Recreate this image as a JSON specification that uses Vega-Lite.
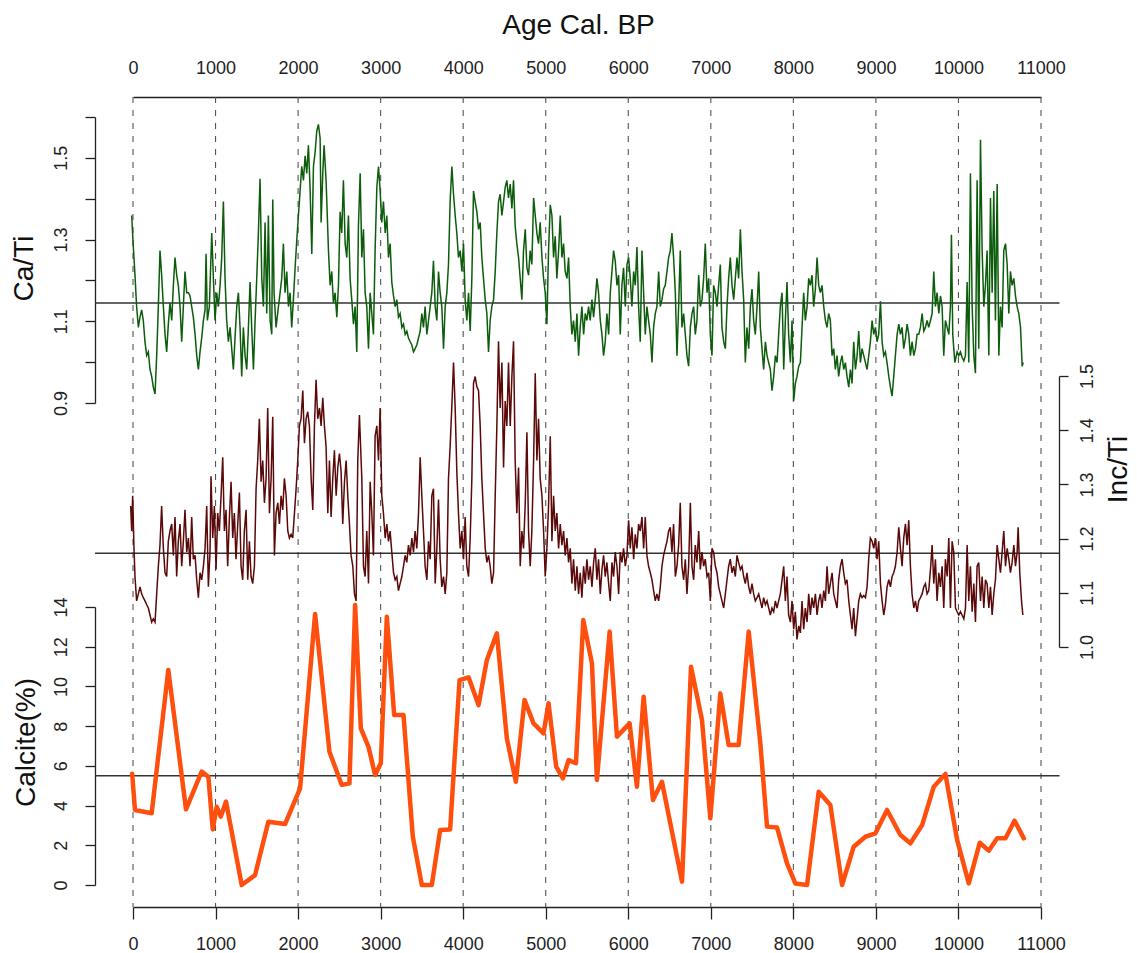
{
  "$schema": "https://vega.github.io/schema/vega-lite/v6.json",
  "width": 908,
  "height": 810,
  "autosize": "none",
  "padding": {"left": 133, "top": 97, "right": 96, "bottom": 46},
  "background": "white",
  "config": {
    "view": {"stroke": null},
    "font": "Liberation Sans",
    "axis": {
      "grid": false,
      "labelFont": "Liberation Sans",
      "labelFontSize": 18,
      "labelColor": "#222222",
      "titleFont": "Liberation Sans",
      "titleFontSize": 28,
      "titleFontWeight": "normal",
      "titleColor": "#111111",
      "domainColor": "#222222",
      "domainWidth": 1.3,
      "tickColor": "#222222",
      "tickWidth": 1.3,
      "labelOverlap": false,
      "labelFlush": false
    }
  },
  "datasets": {
    "cati": [
      {"age":-16,"ratio":1.359},{"age":4,"ratio":1.282},{"age":24,"ratio":1.213},{"age":44,"ratio":1.136},{"age":65,"ratio":1.085},{"age":85,"ratio":1.110},{"age":105,"ratio":1.128},{"age":125,"ratio":1.102},{"age":145,"ratio":1.050},{"age":166,"ratio":1.016},{"age":186,"ratio":1.025},{"age":206,"ratio":0.982},{"age":226,"ratio":0.965},{"age":246,"ratio":0.939},{"age":267,"ratio":0.922},{"age":287,"ratio":1.016},{"age":307,"ratio":1.136},{"age":327,"ratio":1.273},{"age":347,"ratio":1.213},{"age":368,"ratio":1.136},{"age":388,"ratio":1.068},{"age":408,"ratio":1.025},{"age":428,"ratio":1.093},{"age":448,"ratio":1.145},{"age":469,"ratio":1.102},{"age":489,"ratio":1.188},{"age":509,"ratio":1.256},{"age":529,"ratio":1.213},{"age":549,"ratio":1.188},{"age":570,"ratio":1.136},{"age":590,"ratio":1.050},{"age":610,"ratio":1.136},{"age":630,"ratio":1.222},{"age":651,"ratio":1.170},{"age":671,"ratio":1.170},{"age":691,"ratio":1.162},{"age":711,"ratio":1.136},{"age":731,"ratio":1.110},{"age":752,"ratio":1.068},{"age":772,"ratio":1.016},{"age":792,"ratio":0.982},{"age":812,"ratio":1.025},{"age":832,"ratio":1.059},{"age":853,"ratio":1.102},{"age":873,"ratio":1.128},{"age":885,"ratio":1.265},{"age":901,"ratio":1.102},{"age":925,"ratio":1.136},{"age":954,"ratio":1.316},{"age":974,"ratio":1.205},{"age":994,"ratio":1.102},{"age":1014,"ratio":1.170},{"age":1034,"ratio":1.136},{"age":1055,"ratio":1.188},{"age":1075,"ratio":1.256},{"age":1095,"ratio":1.393},{"age":1115,"ratio":1.205},{"age":1135,"ratio":1.102},{"age":1156,"ratio":1.050},{"age":1176,"ratio":1.085},{"age":1196,"ratio":1.033},{"age":1216,"ratio":0.982},{"age":1236,"ratio":1.059},{"age":1257,"ratio":1.136},{"age":1277,"ratio":1.170},{"age":1297,"ratio":1.085},{"age":1317,"ratio":0.965},{"age":1337,"ratio":1.085},{"age":1358,"ratio":1.016},{"age":1378,"ratio":0.982},{"age":1398,"ratio":1.085},{"age":1418,"ratio":1.196},{"age":1438,"ratio":1.085},{"age":1459,"ratio":0.982},{"age":1479,"ratio":1.102},{"age":1499,"ratio":1.205},{"age":1519,"ratio":1.316},{"age":1539,"ratio":1.449},{"age":1560,"ratio":1.205},{"age":1580,"ratio":1.136},{"age":1600,"ratio":1.342},{"age":1620,"ratio":1.119},{"age":1640,"ratio":1.359},{"age":1661,"ratio":1.102},{"age":1681,"ratio":1.068},{"age":1693,"ratio":1.398},{"age":1709,"ratio":1.170},{"age":1733,"ratio":1.085},{"age":1762,"ratio":1.136},{"age":1782,"ratio":1.170},{"age":1802,"ratio":1.205},{"age":1822,"ratio":1.290},{"age":1842,"ratio":1.170},{"age":1863,"ratio":1.222},{"age":1883,"ratio":1.136},{"age":1903,"ratio":1.170},{"age":1923,"ratio":1.085},{"age":1943,"ratio":1.153},{"age":1964,"ratio":1.231},{"age":1984,"ratio":1.299},{"age":2004,"ratio":1.359},{"age":2024,"ratio":1.419},{"age":2044,"ratio":1.479},{"age":2065,"ratio":1.445},{"age":2085,"ratio":1.505},{"age":2105,"ratio":1.462},{"age":2125,"ratio":1.531},{"age":2145,"ratio":1.428},{"age":2166,"ratio":1.265},{"age":2186,"ratio":1.479},{"age":2206,"ratio":1.513},{"age":2226,"ratio":1.565},{"age":2246,"ratio":1.582},{"age":2267,"ratio":1.548},{"age":2279,"ratio":1.342},{"age":2299,"ratio":1.462},{"age":2315,"ratio":1.531},{"age":2339,"ratio":1.445},{"age":2368,"ratio":1.273},{"age":2388,"ratio":1.188},{"age":2408,"ratio":1.222},{"age":2428,"ratio":1.145},{"age":2448,"ratio":1.170},{"age":2469,"ratio":1.110},{"age":2489,"ratio":1.188},{"age":2509,"ratio":1.368},{"age":2529,"ratio":1.316},{"age":2549,"ratio":1.445},{"age":2570,"ratio":1.290},{"age":2590,"ratio":1.256},{"age":2610,"ratio":1.359},{"age":2630,"ratio":1.205},{"age":2650,"ratio":1.153},{"age":2671,"ratio":1.093},{"age":2691,"ratio":1.136},{"age":2711,"ratio":1.025},{"age":2731,"ratio":1.333},
      {"age":2752,"ratio":1.462},{"age":2772,"ratio":1.256},{"age":2792,"ratio":1.325},{"age":2812,"ratio":1.170},{"age":2832,"ratio":1.136},{"age":2853,"ratio":1.033},{"age":2873,"ratio":1.170},{"age":2893,"ratio":1.119},{"age":2913,"ratio":1.068},{"age":2933,"ratio":1.273},{"age":2954,"ratio":1.428},{"age":2974,"ratio":1.479},{"age":2994,"ratio":1.419},{"age":3014,"ratio":1.342},{"age":3034,"ratio":1.393},{"age":3055,"ratio":1.316},{"age":3075,"ratio":1.359},{"age":3095,"ratio":1.256},{"age":3115,"ratio":1.290},{"age":3135,"ratio":1.196},{"age":3156,"ratio":1.162},{"age":3176,"ratio":1.136},{"age":3196,"ratio":1.153},{"age":3216,"ratio":1.110},{"age":3236,"ratio":1.119},{"age":3257,"ratio":1.085},{"age":3277,"ratio":1.093},{"age":3297,"ratio":1.068},{"age":3317,"ratio":1.076},{"age":3337,"ratio":1.059},{"age":3358,"ratio":1.050},{"age":3378,"ratio":1.042},{"age":3398,"ratio":1.025},{"age":3418,"ratio":1.033},{"age":3438,"ratio":1.042},{"age":3459,"ratio":1.059},{"age":3479,"ratio":1.076},{"age":3499,"ratio":1.119},{"age":3519,"ratio":1.085},{"age":3539,"ratio":1.136},{"age":3560,"ratio":1.068},{"age":3580,"ratio":1.102},{"age":3600,"ratio":1.136},{"age":3620,"ratio":1.170},{"age":3640,"ratio":1.248},{"age":3661,"ratio":1.136},{"age":3681,"ratio":1.102},{"age":3701,"ratio":1.222},{"age":3721,"ratio":1.170},{"age":3741,"ratio":1.136},{"age":3762,"ratio":1.033},{"age":3782,"ratio":1.136},{"age":3802,"ratio":1.170},{"age":3822,"ratio":1.239},{"age":3842,"ratio":1.393},{"age":3863,"ratio":1.479},{"age":3883,"ratio":1.411},{"age":3903,"ratio":1.359},{"age":3923,"ratio":1.316},{"age":3943,"ratio":1.256},{"age":3964,"ratio":1.273},{"age":3984,"ratio":1.222},{"age":4004,"ratio":1.290},{"age":4024,"ratio":1.153},{"age":4044,"ratio":1.102},{"age":4065,"ratio":1.170},{"age":4085,"ratio":1.076},{"age":4105,"ratio":1.205},{"age":4125,"ratio":1.419},{"age":4145,"ratio":1.393},{"age":4166,"ratio":1.368},{"age":4186,"ratio":1.325},{"age":4206,"ratio":1.342},{"age":4226,"ratio":1.256},{"age":4246,"ratio":1.205},{"age":4267,"ratio":1.153},{"age":4287,"ratio":1.119},{"age":4307,"ratio":1.025},{"age":4327,"ratio":1.102},{"age":4347,"ratio":1.136},{"age":4368,"ratio":1.153},{"age":4388,"ratio":1.222},{"age":4408,"ratio":1.316},{"age":4428,"ratio":1.393},{"age":4448,"ratio":1.411},{"age":4469,"ratio":1.359},{"age":4489,"ratio":1.393},{"age":4509,"ratio":1.428},{"age":4529,"ratio":1.445},{"age":4549,"ratio":1.402},{"age":4570,"ratio":1.436},{"age":4590,"ratio":1.376},{"age":4610,"ratio":1.445},{"age":4630,"ratio":1.333},{"age":4650,"ratio":1.290},{"age":4671,"ratio":1.256},{"age":4691,"ratio":1.205},{"age":4711,"ratio":1.153},{"age":4731,"ratio":1.273},{"age":4752,"ratio":1.325},{"age":4772,"ratio":1.231},{"age":4792,"ratio":1.213},{"age":4812,"ratio":1.273},{"age":4832,"ratio":1.239},{"age":4853,"ratio":1.402},{"age":4873,"ratio":1.359},{"age":4893,"ratio":1.316},{"age":4913,"ratio":1.290},{"age":4933,"ratio":1.342},{"age":4954,"ratio":1.256},{"age":4974,"ratio":1.205},{"age":4994,"ratio":1.170},{"age":5014,"ratio":1.093},{"age":5034,"ratio":1.273},{"age":5055,"ratio":1.385},{"age":5075,"ratio":1.359},{"age":5095,"ratio":1.256},{"age":5115,"ratio":1.308},{"age":5135,"ratio":1.205},{"age":5156,"ratio":1.273},{"age":5176,"ratio":1.359},{"age":5196,"ratio":1.256},{"age":5216,"ratio":1.290},{"age":5236,"ratio":1.222},{"age":5257,"ratio":1.205},{"age":5277,"ratio":1.256},{"age":5297,"ratio":1.136},{"age":5317,"ratio":1.068},{"age":5337,"ratio":1.102},{"age":5358,"ratio":1.050},{"age":5378,"ratio":1.119},{"age":5398,"ratio":1.016},{"age":5418,"ratio":1.085},{"age":5438,"ratio":1.136},{"age":5459,"ratio":1.068},{"age":5479,"ratio":1.119},{"age":5499,"ratio":1.102},{"age":5519,"ratio":1.136},{"age":5539,"ratio":1.102},{"age":5560,"ratio":1.153},{"age":5580,"ratio":1.110},
      {"age":5600,"ratio":1.153},{"age":5620,"ratio":1.205},{"age":5640,"ratio":1.170},{"age":5661,"ratio":1.102},{"age":5681,"ratio":1.068},{"age":5701,"ratio":1.016},{"age":5721,"ratio":1.050},{"age":5741,"ratio":1.119},{"age":5762,"ratio":1.068},{"age":5782,"ratio":1.170},{"age":5802,"ratio":1.222},{"age":5822,"ratio":1.273},{"age":5842,"ratio":1.248},{"age":5863,"ratio":1.188},{"age":5883,"ratio":1.213},{"age":5903,"ratio":1.068},{"age":5923,"ratio":1.188},{"age":5943,"ratio":1.231},{"age":5964,"ratio":1.136},{"age":5984,"ratio":1.239},{"age":6004,"ratio":1.256},{"age":6024,"ratio":1.205},{"age":6044,"ratio":1.136},{"age":6065,"ratio":1.222},{"age":6085,"ratio":1.188},{"age":6105,"ratio":1.282},{"age":6125,"ratio":1.136},{"age":6145,"ratio":1.050},{"age":6166,"ratio":1.273},{"age":6186,"ratio":1.170},{"age":6206,"ratio":1.068},{"age":6226,"ratio":1.136},{"age":6246,"ratio":1.102},{"age":6267,"ratio":1.068},{"age":6287,"ratio":0.999},{"age":6307,"ratio":1.085},{"age":6327,"ratio":1.119},{"age":6347,"ratio":1.136},{"age":6368,"ratio":1.222},{"age":6388,"ratio":1.136},{"age":6408,"ratio":1.153},{"age":6428,"ratio":1.179},{"age":6448,"ratio":1.188},{"age":6469,"ratio":1.222},{"age":6489,"ratio":1.256},{"age":6509,"ratio":1.273},{"age":6529,"ratio":1.316},{"age":6549,"ratio":1.256},{"age":6570,"ratio":1.170},{"age":6590,"ratio":1.016},{"age":6610,"ratio":1.136},{"age":6630,"ratio":1.273},{"age":6650,"ratio":1.085},{"age":6671,"ratio":1.119},{"age":6691,"ratio":1.068},{"age":6711,"ratio":1.016},{"age":6731,"ratio":0.990},{"age":6752,"ratio":1.085},{"age":6772,"ratio":1.119},{"age":6792,"ratio":1.136},{"age":6812,"ratio":1.068},{"age":6832,"ratio":1.102},{"age":6853,"ratio":1.213},{"age":6873,"ratio":1.136},{"age":6893,"ratio":1.153},{"age":6913,"ratio":1.205},{"age":6933,"ratio":1.290},{"age":6954,"ratio":1.170},{"age":6974,"ratio":1.205},{"age":6994,"ratio":1.068},{"age":7014,"ratio":1.016},{"age":7034,"ratio":1.188},{"age":7055,"ratio":1.170},{"age":7075,"ratio":1.136},{"age":7095,"ratio":1.188},{"age":7115,"ratio":1.239},{"age":7135,"ratio":1.085},{"age":7156,"ratio":1.050},{"age":7176,"ratio":1.033},{"age":7196,"ratio":1.136},{"age":7216,"ratio":1.205},{"age":7236,"ratio":1.256},{"age":7257,"ratio":1.188},{"age":7277,"ratio":1.153},{"age":7297,"ratio":1.205},{"age":7317,"ratio":1.256},{"age":7337,"ratio":1.205},{"age":7358,"ratio":1.325},{"age":7378,"ratio":1.222},{"age":7398,"ratio":1.153},{"age":7418,"ratio":0.999},{"age":7438,"ratio":1.085},{"age":7459,"ratio":1.033},{"age":7479,"ratio":1.136},{"age":7499,"ratio":1.179},{"age":7519,"ratio":1.102},{"age":7539,"ratio":1.068},{"age":7560,"ratio":1.136},{"age":7580,"ratio":1.222},{"age":7600,"ratio":1.085},{"age":7620,"ratio":1.033},{"age":7640,"ratio":0.982},{"age":7661,"ratio":1.050},{"age":7681,"ratio":1.016},{"age":7701,"ratio":0.999},{"age":7721,"ratio":0.982},{"age":7741,"ratio":0.930},{"age":7762,"ratio":0.965},{"age":7782,"ratio":1.016},{"age":7802,"ratio":0.999},{"age":7822,"ratio":1.068},{"age":7842,"ratio":1.136},{"age":7863,"ratio":1.170},{"age":7883,"ratio":0.982},{"age":7903,"ratio":1.102},{"age":7923,"ratio":1.196},{"age":7943,"ratio":1.068},{"age":7964,"ratio":0.999},{"age":7984,"ratio":1.102},{"age":8004,"ratio":0.905},{"age":8024,"ratio":0.948},{"age":8044,"ratio":0.965},{"age":8065,"ratio":0.990},{"age":8085,"ratio":0.999},{"age":8105,"ratio":1.085},{"age":8125,"ratio":1.170},{"age":8145,"ratio":1.102},{"age":8166,"ratio":1.136},{"age":8186,"ratio":1.205},{"age":8206,"ratio":1.188},{"age":8226,"ratio":1.213},{"age":8246,"ratio":1.136},{"age":8267,"ratio":1.179},{"age":8287,"ratio":1.256},{"age":8307,"ratio":1.188},{"age":8327,"ratio":1.170},{"age":8347,"ratio":1.188},{"age":8368,"ratio":1.136},{"age":8388,"ratio":1.102},{"age":8408,"ratio":1.085},{"age":8428,"ratio":1.119},
      {"age":8448,"ratio":1.102},{"age":8469,"ratio":1.016},{"age":8489,"ratio":1.033},{"age":8509,"ratio":0.982},{"age":8529,"ratio":1.016},{"age":8549,"ratio":0.965},{"age":8570,"ratio":0.999},{"age":8590,"ratio":1.016},{"age":8610,"ratio":0.982},{"age":8630,"ratio":0.999},{"age":8650,"ratio":0.965},{"age":8671,"ratio":0.939},{"age":8691,"ratio":0.982},{"age":8711,"ratio":0.948},{"age":8731,"ratio":1.050},{"age":8752,"ratio":0.982},{"age":8772,"ratio":1.016},{"age":8792,"ratio":1.076},{"age":8812,"ratio":0.999},{"age":8832,"ratio":1.033},{"age":8853,"ratio":1.016},{"age":8873,"ratio":0.999},{"age":8893,"ratio":0.982},{"age":8913,"ratio":1.016},{"age":8933,"ratio":1.050},{"age":8954,"ratio":1.102},{"age":8974,"ratio":1.068},{"age":8994,"ratio":1.085},{"age":9014,"ratio":1.050},{"age":9034,"ratio":1.068},{"age":9055,"ratio":1.149},{"age":9075,"ratio":1.050},{"age":9095,"ratio":1.016},{"age":9115,"ratio":1.025},{"age":9135,"ratio":0.999},{"age":9156,"ratio":0.965},{"age":9176,"ratio":0.939},{"age":9196,"ratio":0.917},{"age":9216,"ratio":0.965},{"age":9236,"ratio":1.016},{"age":9257,"ratio":1.068},{"age":9277,"ratio":1.093},{"age":9297,"ratio":1.068},{"age":9317,"ratio":1.085},{"age":9337,"ratio":1.033},{"age":9358,"ratio":1.059},{"age":9378,"ratio":1.093},{"age":9398,"ratio":1.068},{"age":9418,"ratio":1.016},{"age":9438,"ratio":1.050},{"age":9459,"ratio":1.016},{"age":9479,"ratio":1.033},{"age":9499,"ratio":1.068},{"age":9519,"ratio":1.068},{"age":9539,"ratio":1.085},{"age":9560,"ratio":1.119},{"age":9580,"ratio":1.076},{"age":9600,"ratio":1.085},{"age":9620,"ratio":1.102},{"age":9640,"ratio":1.085},{"age":9661,"ratio":1.102},{"age":9681,"ratio":1.119},{"age":9701,"ratio":1.222},{"age":9721,"ratio":1.136},{"age":9741,"ratio":1.170},{"age":9762,"ratio":1.119},{"age":9782,"ratio":1.162},{"age":9802,"ratio":1.136},{"age":9822,"ratio":1.016},{"age":9842,"ratio":1.102},{"age":9863,"ratio":1.085},{"age":9883,"ratio":1.068},{"age":9903,"ratio":1.136},{"age":9915,"ratio":1.312},{"age":9931,"ratio":1.068},{"age":9956,"ratio":0.999},{"age":9984,"ratio":1.025},{"age":10004,"ratio":1.016},{"age":10024,"ratio":1.025},{"age":10044,"ratio":1.012},{"age":10065,"ratio":1.003},{"age":10085,"ratio":1.016},{"age":10105,"ratio":1.196},{"age":10125,"ratio":0.999},{"age":10145,"ratio":1.462},{"age":10166,"ratio":1.136},{"age":10186,"ratio":1.016},{"age":10206,"ratio":0.973},{"age":10226,"ratio":1.445},{"age":10246,"ratio":1.033},{"age":10267,"ratio":1.544},{"age":10287,"ratio":1.273},{"age":10307,"ratio":1.136},{"age":10327,"ratio":1.188},{"age":10347,"ratio":1.273},{"age":10368,"ratio":1.016},{"age":10388,"ratio":1.402},{"age":10408,"ratio":1.170},{"age":10428,"ratio":1.419},{"age":10448,"ratio":1.102},{"age":10469,"ratio":1.436},{"age":10489,"ratio":1.016},{"age":10509,"ratio":1.136},{"age":10529,"ratio":1.085},{"age":10549,"ratio":1.273},{"age":10570,"ratio":1.290},{"age":10590,"ratio":1.239},{"age":10610,"ratio":1.119},{"age":10630,"ratio":1.222},{"age":10650,"ratio":1.188},{"age":10671,"ratio":1.205},{"age":10691,"ratio":1.162},{"age":10711,"ratio":1.136},{"age":10731,"ratio":1.119},{"age":10752,"ratio":1.085},{"age":10772,"ratio":0.990},{"age":10784,"ratio":0.999}
    ],
    "incti": [
      {"age":-28,"ratio":1.260},{"age":-16,"ratio":1.214},{"age":-4,"ratio":1.279},{"age":12,"ratio":1.182},{"age":24,"ratio":1.130},{"age":44,"ratio":1.085},{"age":65,"ratio":1.098},{"age":85,"ratio":1.111},{"age":105,"ratio":1.098},{"age":125,"ratio":1.091},{"age":145,"ratio":1.085},{"age":166,"ratio":1.078},{"age":186,"ratio":1.072},{"age":206,"ratio":1.059},{"age":226,"ratio":1.046},{"age":246,"ratio":1.052},{"age":267,"ratio":1.046},{"age":287,"ratio":1.098},{"age":307,"ratio":1.149},{"age":327,"ratio":1.188},{"age":347,"ratio":1.260},{"age":368,"ratio":1.182},{"age":388,"ratio":1.137},{"age":408,"ratio":1.130},{"age":428,"ratio":1.195},{"age":448,"ratio":1.214},{"age":469,"ratio":1.227},{"age":489,"ratio":1.169},{"age":509,"ratio":1.240},{"age":529,"ratio":1.130},{"age":549,"ratio":1.195},{"age":570,"ratio":1.227},{"age":590,"ratio":1.149},{"age":610,"ratio":1.195},{"age":630,"ratio":1.253},{"age":651,"ratio":1.175},{"age":671,"ratio":1.201},{"age":691,"ratio":1.149},{"age":711,"ratio":1.240},{"age":731,"ratio":1.162},{"age":752,"ratio":1.169},{"age":772,"ratio":1.124},{"age":792,"ratio":1.091},{"age":812,"ratio":1.137},{"age":832,"ratio":1.124},{"age":853,"ratio":1.149},{"age":873,"ratio":1.182},{"age":893,"ratio":1.260},{"age":913,"ratio":1.111},{"age":933,"ratio":1.175},{"age":945,"ratio":1.315},{"age":966,"ratio":1.201},{"age":986,"ratio":1.260},{"age":1006,"ratio":1.143},{"age":1026,"ratio":1.247},{"age":1046,"ratio":1.214},{"age":1067,"ratio":1.279},{"age":1087,"ratio":1.350},{"age":1107,"ratio":1.214},{"age":1127,"ratio":1.253},{"age":1147,"ratio":1.149},{"age":1168,"ratio":1.240},{"age":1188,"ratio":1.305},{"age":1208,"ratio":1.201},{"age":1228,"ratio":1.247},{"age":1248,"ratio":1.162},{"age":1269,"ratio":1.227},{"age":1289,"ratio":1.285},{"age":1309,"ratio":1.149},{"age":1329,"ratio":1.124},{"age":1349,"ratio":1.214},{"age":1370,"ratio":1.253},{"age":1390,"ratio":1.124},{"age":1410,"ratio":1.195},{"age":1430,"ratio":1.130},{"age":1450,"ratio":1.117},{"age":1471,"ratio":1.149},{"age":1491,"ratio":1.292},{"age":1511,"ratio":1.344},{"age":1531,"ratio":1.421},{"age":1552,"ratio":1.305},{"age":1572,"ratio":1.344},{"age":1592,"ratio":1.266},{"age":1612,"ratio":1.311},{"age":1632,"ratio":1.441},{"age":1653,"ratio":1.247},{"age":1673,"ratio":1.311},{"age":1693,"ratio":1.425},{"age":1713,"ratio":1.169},{"age":1733,"ratio":1.247},{"age":1754,"ratio":1.266},{"age":1774,"ratio":1.227},{"age":1794,"ratio":1.279},{"age":1814,"ratio":1.253},{"age":1834,"ratio":1.311},{"age":1855,"ratio":1.279},{"age":1875,"ratio":1.214},{"age":1895,"ratio":1.201},{"age":1915,"ratio":1.208},{"age":1935,"ratio":1.201},{"age":1956,"ratio":1.247},{"age":1976,"ratio":1.292},{"age":1996,"ratio":1.344},{"age":2016,"ratio":1.408},{"age":2036,"ratio":1.421},{"age":2057,"ratio":1.473},{"age":2077,"ratio":1.376},{"age":2097,"ratio":1.421},{"age":2117,"ratio":1.434},{"age":2137,"ratio":1.408},{"age":2158,"ratio":1.311},{"age":2178,"ratio":1.253},{"age":2198,"ratio":1.408},{"age":2218,"ratio":1.493},{"age":2238,"ratio":1.421},{"age":2259,"ratio":1.441},{"age":2279,"ratio":1.408},{"age":2299,"ratio":1.460},{"age":2319,"ratio":1.408},{"age":2339,"ratio":1.370},{"age":2360,"ratio":1.247},{"age":2380,"ratio":1.344},{"age":2400,"ratio":1.240},{"age":2420,"ratio":1.311},{"age":2440,"ratio":1.363},{"age":2461,"ratio":1.279},{"age":2481,"ratio":1.331},{"age":2501,"ratio":1.357},{"age":2521,"ratio":1.324},{"age":2541,"ratio":1.227},{"age":2562,"ratio":1.305},{"age":2582,"ratio":1.344},{"age":2602,"ratio":1.279},{"age":2622,"ratio":1.227},{"age":2642,"ratio":1.169},{"age":2663,"ratio":1.149},{"age":2683,"ratio":1.098},{"age":2703,"ratio":1.085},{"age":2723,"ratio":1.344},{"age":2743,"ratio":1.428},
      {"age":2772,"ratio":1.311},{"age":2792,"ratio":1.149},{"age":2812,"ratio":1.130},{"age":2832,"ratio":1.214},{"age":2853,"ratio":1.117},{"age":2873,"ratio":1.305},{"age":2893,"ratio":1.247},{"age":2913,"ratio":1.169},{"age":2933,"ratio":1.389},{"age":2954,"ratio":1.408},{"age":2974,"ratio":1.344},{"age":2994,"ratio":1.441},{"age":3014,"ratio":1.279},{"age":3034,"ratio":1.247},{"age":3055,"ratio":1.201},{"age":3075,"ratio":1.227},{"age":3095,"ratio":1.195},{"age":3115,"ratio":1.214},{"age":3135,"ratio":1.175},{"age":3156,"ratio":1.137},{"age":3176,"ratio":1.124},{"age":3196,"ratio":1.130},{"age":3216,"ratio":1.104},{"age":3236,"ratio":1.117},{"age":3257,"ratio":1.130},{"age":3277,"ratio":1.149},{"age":3297,"ratio":1.169},{"age":3317,"ratio":1.156},{"age":3337,"ratio":1.188},{"age":3358,"ratio":1.169},{"age":3378,"ratio":1.201},{"age":3398,"ratio":1.175},{"age":3418,"ratio":1.214},{"age":3438,"ratio":1.182},{"age":3459,"ratio":1.247},{"age":3479,"ratio":1.350},{"age":3499,"ratio":1.279},{"age":3519,"ratio":1.214},{"age":3539,"ratio":1.149},{"age":3560,"ratio":1.124},{"age":3580,"ratio":1.195},{"age":3600,"ratio":1.162},{"age":3620,"ratio":1.279},{"age":3640,"ratio":1.292},{"age":3661,"ratio":1.117},{"age":3681,"ratio":1.182},{"age":3701,"ratio":1.272},{"age":3721,"ratio":1.162},{"age":3741,"ratio":1.111},{"age":3762,"ratio":1.130},{"age":3782,"ratio":1.098},{"age":3802,"ratio":1.137},{"age":3822,"ratio":1.311},{"age":3842,"ratio":1.370},{"age":3863,"ratio":1.447},{"age":3883,"ratio":1.525},{"age":3903,"ratio":1.441},{"age":3923,"ratio":1.324},{"age":3943,"ratio":1.247},{"age":3964,"ratio":1.182},{"age":3984,"ratio":1.214},{"age":4004,"ratio":1.162},{"age":4024,"ratio":1.240},{"age":4044,"ratio":1.149},{"age":4065,"ratio":1.130},{"age":4085,"ratio":1.201},{"age":4105,"ratio":1.311},{"age":4125,"ratio":1.486},{"age":4145,"ratio":1.499},{"age":4166,"ratio":1.480},{"age":4186,"ratio":1.473},{"age":4206,"ratio":1.408},{"age":4226,"ratio":1.311},{"age":4246,"ratio":1.247},{"age":4267,"ratio":1.182},{"age":4287,"ratio":1.156},{"age":4307,"ratio":1.169},{"age":4327,"ratio":1.149},{"age":4347,"ratio":1.117},{"age":4368,"ratio":1.137},{"age":4388,"ratio":1.279},{"age":4408,"ratio":1.408},{"age":4428,"ratio":1.564},{"age":4448,"ratio":1.441},{"age":4469,"ratio":1.525},{"age":4489,"ratio":1.331},{"age":4509,"ratio":1.454},{"age":4529,"ratio":1.408},{"age":4549,"ratio":1.525},{"age":4570,"ratio":1.408},{"age":4590,"ratio":1.499},{"age":4610,"ratio":1.564},{"age":4630,"ratio":1.344},{"age":4650,"ratio":1.247},{"age":4671,"ratio":1.331},{"age":4691,"ratio":1.149},{"age":4711,"ratio":1.214},{"age":4731,"ratio":1.182},{"age":4752,"ratio":1.266},{"age":4772,"ratio":1.396},{"age":4792,"ratio":1.214},{"age":4812,"ratio":1.149},{"age":4832,"ratio":1.214},{"age":4853,"ratio":1.344},{"age":4873,"ratio":1.505},{"age":4893,"ratio":1.344},{"age":4913,"ratio":1.421},{"age":4933,"ratio":1.311},{"age":4954,"ratio":1.279},{"age":4974,"ratio":1.214},{"age":4994,"ratio":1.130},{"age":5014,"ratio":1.182},{"age":5034,"ratio":1.260},{"age":5055,"ratio":1.389},{"age":5075,"ratio":1.195},{"age":5095,"ratio":1.279},{"age":5115,"ratio":1.214},{"age":5135,"ratio":1.247},{"age":5156,"ratio":1.182},{"age":5176,"ratio":1.227},{"age":5196,"ratio":1.188},{"age":5216,"ratio":1.214},{"age":5236,"ratio":1.169},{"age":5257,"ratio":1.201},{"age":5277,"ratio":1.156},{"age":5297,"ratio":1.182},{"age":5317,"ratio":1.117},{"age":5337,"ratio":1.162},{"age":5358,"ratio":1.104},{"age":5378,"ratio":1.149},{"age":5398,"ratio":1.098},{"age":5418,"ratio":1.137},{"age":5438,"ratio":1.091},{"age":5459,"ratio":1.149},{"age":5479,"ratio":1.117},{"age":5499,"ratio":1.162},{"age":5519,"ratio":1.124},{"age":5539,"ratio":1.149},{"age":5560,"ratio":1.111},{"age":5580,"ratio":1.156},
      {"age":5600,"ratio":1.182},{"age":5620,"ratio":1.124},{"age":5640,"ratio":1.162},{"age":5661,"ratio":1.098},{"age":5681,"ratio":1.143},{"age":5701,"ratio":1.169},{"age":5721,"ratio":1.130},{"age":5741,"ratio":1.156},{"age":5762,"ratio":1.117},{"age":5782,"ratio":1.085},{"age":5802,"ratio":1.156},{"age":5822,"ratio":1.130},{"age":5842,"ratio":1.175},{"age":5863,"ratio":1.149},{"age":5883,"ratio":1.098},{"age":5903,"ratio":1.175},{"age":5923,"ratio":1.156},{"age":5943,"ratio":1.182},{"age":5964,"ratio":1.149},{"age":5984,"ratio":1.169},{"age":6004,"ratio":1.234},{"age":6024,"ratio":1.182},{"age":6044,"ratio":1.221},{"age":6065,"ratio":1.162},{"age":6085,"ratio":1.208},{"age":6105,"ratio":1.182},{"age":6125,"ratio":1.227},{"age":6145,"ratio":1.214},{"age":6166,"ratio":1.240},{"age":6186,"ratio":1.182},{"age":6206,"ratio":1.240},{"age":6226,"ratio":1.169},{"age":6246,"ratio":1.149},{"age":6267,"ratio":1.137},{"age":6287,"ratio":1.124},{"age":6307,"ratio":1.104},{"age":6327,"ratio":1.085},{"age":6347,"ratio":1.098},{"age":6368,"ratio":1.085},{"age":6388,"ratio":1.111},{"age":6408,"ratio":1.149},{"age":6428,"ratio":1.169},{"age":6448,"ratio":1.182},{"age":6469,"ratio":1.195},{"age":6489,"ratio":1.214},{"age":6509,"ratio":1.221},{"age":6529,"ratio":1.175},{"age":6549,"ratio":1.227},{"age":6570,"ratio":1.130},{"age":6590,"ratio":1.149},{"age":6610,"ratio":1.188},{"age":6630,"ratio":1.266},{"age":6650,"ratio":1.149},{"age":6671,"ratio":1.124},{"age":6691,"ratio":1.162},{"age":6711,"ratio":1.098},{"age":6731,"ratio":1.149},{"age":6752,"ratio":1.266},{"age":6772,"ratio":1.149},{"age":6792,"ratio":1.124},{"age":6812,"ratio":1.188},{"age":6832,"ratio":1.156},{"age":6853,"ratio":1.214},{"age":6873,"ratio":1.143},{"age":6893,"ratio":1.175},{"age":6913,"ratio":1.149},{"age":6933,"ratio":1.162},{"age":6954,"ratio":1.130},{"age":6974,"ratio":1.137},{"age":6994,"ratio":1.085},{"age":7014,"ratio":1.182},{"age":7034,"ratio":1.175},{"age":7055,"ratio":1.149},{"age":7075,"ratio":1.137},{"age":7095,"ratio":1.111},{"age":7115,"ratio":1.098},{"age":7135,"ratio":1.085},{"age":7156,"ratio":1.072},{"age":7176,"ratio":1.098},{"age":7196,"ratio":1.124},{"age":7216,"ratio":1.149},{"age":7236,"ratio":1.162},{"age":7257,"ratio":1.137},{"age":7277,"ratio":1.149},{"age":7297,"ratio":1.130},{"age":7317,"ratio":1.169},{"age":7337,"ratio":1.156},{"age":7358,"ratio":1.143},{"age":7378,"ratio":1.149},{"age":7398,"ratio":1.130},{"age":7418,"ratio":1.117},{"age":7438,"ratio":1.137},{"age":7459,"ratio":1.111},{"age":7479,"ratio":1.098},{"age":7499,"ratio":1.117},{"age":7519,"ratio":1.098},{"age":7539,"ratio":1.085},{"age":7560,"ratio":1.091},{"age":7580,"ratio":1.098},{"age":7600,"ratio":1.085},{"age":7620,"ratio":1.072},{"age":7640,"ratio":1.091},{"age":7661,"ratio":1.078},{"age":7681,"ratio":1.085},{"age":7701,"ratio":1.072},{"age":7721,"ratio":1.059},{"age":7741,"ratio":1.072},{"age":7762,"ratio":1.065},{"age":7782,"ratio":1.085},{"age":7802,"ratio":1.072},{"age":7822,"ratio":1.085},{"age":7842,"ratio":1.098},{"age":7863,"ratio":1.124},{"age":7883,"ratio":1.149},{"age":7903,"ratio":1.085},{"age":7923,"ratio":1.130},{"age":7943,"ratio":1.059},{"age":7964,"ratio":1.046},{"age":7984,"ratio":1.085},{"age":8004,"ratio":1.033},{"age":8024,"ratio":1.065},{"age":8044,"ratio":1.014},{"age":8065,"ratio":1.039},{"age":8085,"ratio":1.026},{"age":8105,"ratio":1.085},{"age":8125,"ratio":1.033},{"age":8145,"ratio":1.072},{"age":8166,"ratio":1.046},{"age":8186,"ratio":1.098},{"age":8206,"ratio":1.059},{"age":8226,"ratio":1.091},{"age":8246,"ratio":1.072},{"age":8267,"ratio":1.098},{"age":8287,"ratio":1.059},{"age":8307,"ratio":1.085},{"age":8327,"ratio":1.098},{"age":8347,"ratio":1.072},{"age":8368,"ratio":1.104},{"age":8388,"ratio":1.085},{"age":8408,"ratio":1.149},{"age":8428,"ratio":1.098},
      {"age":8448,"ratio":1.117},{"age":8469,"ratio":1.137},{"age":8489,"ratio":1.098},{"age":8509,"ratio":1.085},{"age":8529,"ratio":1.072},{"age":8549,"ratio":1.124},{"age":8570,"ratio":1.149},{"age":8590,"ratio":1.162},{"age":8610,"ratio":1.137},{"age":8630,"ratio":1.117},{"age":8650,"ratio":1.124},{"age":8671,"ratio":1.085},{"age":8691,"ratio":1.059},{"age":8711,"ratio":1.033},{"age":8731,"ratio":1.072},{"age":8752,"ratio":1.020},{"age":8772,"ratio":1.052},{"age":8792,"ratio":1.085},{"age":8812,"ratio":1.098},{"age":8832,"ratio":1.091},{"age":8853,"ratio":1.095},{"age":8873,"ratio":1.091},{"age":8893,"ratio":1.111},{"age":8913,"ratio":1.162},{"age":8933,"ratio":1.201},{"age":8954,"ratio":1.195},{"age":8974,"ratio":1.182},{"age":8994,"ratio":1.201},{"age":9014,"ratio":1.162},{"age":9034,"ratio":1.195},{"age":9055,"ratio":1.117},{"age":9075,"ratio":1.085},{"age":9095,"ratio":1.059},{"age":9115,"ratio":1.078},{"age":9135,"ratio":1.111},{"age":9156,"ratio":1.124},{"age":9176,"ratio":1.111},{"age":9196,"ratio":1.130},{"age":9216,"ratio":1.137},{"age":9236,"ratio":1.149},{"age":9257,"ratio":1.175},{"age":9277,"ratio":1.221},{"age":9297,"ratio":1.182},{"age":9317,"ratio":1.149},{"age":9337,"ratio":1.201},{"age":9358,"ratio":1.227},{"age":9378,"ratio":1.188},{"age":9398,"ratio":1.234},{"age":9418,"ratio":1.149},{"age":9438,"ratio":1.098},{"age":9459,"ratio":1.072},{"age":9479,"ratio":1.085},{"age":9499,"ratio":1.065},{"age":9519,"ratio":1.085},{"age":9539,"ratio":1.091},{"age":9560,"ratio":1.098},{"age":9580,"ratio":1.111},{"age":9600,"ratio":1.117},{"age":9620,"ratio":1.098},{"age":9640,"ratio":1.104},{"age":9661,"ratio":1.143},{"age":9681,"ratio":1.188},{"age":9701,"ratio":1.117},{"age":9721,"ratio":1.162},{"age":9741,"ratio":1.085},{"age":9762,"ratio":1.137},{"age":9782,"ratio":1.111},{"age":9802,"ratio":1.149},{"age":9822,"ratio":1.072},{"age":9842,"ratio":1.162},{"age":9863,"ratio":1.130},{"age":9883,"ratio":1.201},{"age":9903,"ratio":1.072},{"age":9923,"ratio":1.195},{"age":9943,"ratio":1.175},{"age":9964,"ratio":1.072},{"age":9984,"ratio":1.065},{"age":10004,"ratio":1.059},{"age":10024,"ratio":1.065},{"age":10044,"ratio":1.059},{"age":10065,"ratio":1.052},{"age":10085,"ratio":1.072},{"age":10105,"ratio":1.188},{"age":10125,"ratio":1.085},{"age":10145,"ratio":1.149},{"age":10166,"ratio":1.065},{"age":10186,"ratio":1.117},{"age":10206,"ratio":1.046},{"age":10226,"ratio":1.149},{"age":10246,"ratio":1.156},{"age":10267,"ratio":1.085},{"age":10287,"ratio":1.130},{"age":10307,"ratio":1.072},{"age":10327,"ratio":1.124},{"age":10347,"ratio":1.117},{"age":10368,"ratio":1.072},{"age":10388,"ratio":1.111},{"age":10408,"ratio":1.059},{"age":10428,"ratio":1.098},{"age":10448,"ratio":1.124},{"age":10469,"ratio":1.188},{"age":10489,"ratio":1.162},{"age":10509,"ratio":1.137},{"age":10529,"ratio":1.175},{"age":10549,"ratio":1.214},{"age":10570,"ratio":1.149},{"age":10590,"ratio":1.182},{"age":10610,"ratio":1.162},{"age":10630,"ratio":1.137},{"age":10650,"ratio":1.156},{"age":10671,"ratio":1.188},{"age":10691,"ratio":1.149},{"age":10711,"ratio":1.175},{"age":10723,"ratio":1.221},{"age":10743,"ratio":1.137},{"age":10764,"ratio":1.085},{"age":10780,"ratio":1.059}
    ],
    "calcite": [
      {"age":-10,"pct":5.6},{"age":24,"pct":3.78},{"age":226,"pct":3.61},{"age":428,"pct":10.83},{"age":642,"pct":3.81},{"age":832,"pct":5.71},{"age":913,"pct":5.45},{"age":966,"pct":2.8},{"age":1014,"pct":3.94},{"age":1063,"pct":3.44},{"age":1127,"pct":4.2},{"age":1317,"pct":0.0},{"age":1479,"pct":0.5},{"age":1640,"pct":3.19},{"age":1842,"pct":3.07},{"age":2024,"pct":4.87},{"age":2206,"pct":13.65},{"age":2380,"pct":6.71},{"age":2529,"pct":5.04},{"age":2622,"pct":5.12},{"age":2691,"pct":14.1},{"age":2760,"pct":7.89},{"age":2852,"pct":6.97},{"age":2933,"pct":5.54},{"age":3002,"pct":6.13},{"age":3075,"pct":13.51},{"age":3164,"pct":8.56},{"age":3277,"pct":8.56},{"age":3390,"pct":2.43},{"age":3499,"pct":0.0},{"age":3620,"pct":0.0},{"age":3721,"pct":2.77},{"age":3842,"pct":2.8},{"age":3956,"pct":10.32},{"age":4065,"pct":10.46},{"age":4186,"pct":9.06},{"age":4287,"pct":11.33},{"age":4408,"pct":12.67},{"age":4529,"pct":7.39},{"age":4638,"pct":5.2},{"age":4743,"pct":9.32},{"age":4852,"pct":8.14},{"age":4973,"pct":7.64},{"age":5034,"pct":9.15},{"age":5127,"pct":5.96},{"age":5208,"pct":5.37},{"age":5277,"pct":6.29},{"age":5366,"pct":6.13},{"age":5455,"pct":13.34},{"age":5560,"pct":11.16},{"age":5620,"pct":5.29},{"age":5774,"pct":12.76},{"age":5863,"pct":7.47},{"age":6016,"pct":8.14},{"age":6105,"pct":4.95},{"age":6186,"pct":9.48},{"age":6299,"pct":4.28},{"age":6408,"pct":5.2},{"age":6651,"pct":0.17},{"age":6760,"pct":10.99},{"age":6893,"pct":8.31},{"age":6994,"pct":3.36},{"age":7115,"pct":9.65},{"age":7216,"pct":7.05},{"age":7337,"pct":7.05},{"age":7459,"pct":12.76},{"age":7600,"pct":7.13},{"age":7681,"pct":2.94},{"age":7802,"pct":2.9},{"age":7923,"pct":1.09},{"age":8024,"pct":0.08},{"age":8166,"pct":0.0},{"age":8307,"pct":4.7},{"age":8448,"pct":4.03},{"age":8590,"pct":0.0},{"age":8731,"pct":1.93},{"age":8873,"pct":2.43},{"age":8994,"pct":2.6},{"age":9135,"pct":3.78},{"age":9297,"pct":2.52},{"age":9418,"pct":2.1},{"age":9560,"pct":3.02},{"age":9701,"pct":4.95},{"age":9842,"pct":5.59},{"age":9984,"pct":2.27},{"age":10125,"pct":0.08},{"age":10258,"pct":2.13},{"age":10367,"pct":1.73},{"age":10469,"pct":2.35},{"age":10570,"pct":2.35},{"age":10679,"pct":3.24},{"age":10792,"pct":2.35}
    ],
    "gridlines": [
      {"age":0},{"age":1000},{"age":2000},{"age":3000},{"age":4000},{"age":5000},{"age":6000},{"age":7000},{"age":8000},{"age":9000},{"age":10000},{"age":11000}
    ],
    "meanlines": [
      {"series":"Ca/Ti","from":-460,"to":11224,"level":1.145},
      {"series":"Inc/Ti","from":-460,"to":11224,"level":1.173},
      {"series":"Calcite","from":-460,"to":11224,"level":5.5}
    ]
  },
  "layer": [
    {
      "data": {"name": "gridlines"},
      "mark": {"type": "rule", "color": "#555555", "strokeWidth": 1.1, "strokeDash": [6, 7]},
      "encoding": {
        "x": {
          "field": "age", "type": "quantitative",
          "scale": {"domain": [0, 11000], "nice": false, "zero": false},
          "axis": {
            "orient": "top",
            "values": [0,1000,2000,3000,4000,5000,6000,7000,8000,9000,10000,11000],
            "format": "d",
            "ticks": false,
            "tickSize": 0,
            "labelPadding": 20,
            "title": "Age Cal. BP",
            "titleX": 445,
            "titleY": -72,
            "titleAngle": 0,
            "titleAlign": "center",
            "titleBaseline": "middle"
          }
        }
      }
    },
    {
      "data": {"name": "meanlines"},
      "transform": [{"filter": "datum.series === 'Ca/Ti'"}],
      "mark": {"type": "rule", "color": "#333333", "strokeWidth": 1.5},
      "encoding": {
        "x": {"field": "from", "type": "quantitative", "scale": {"domain": [0, 11000], "nice": false, "zero": false}, "axis": null},
        "x2": {"field": "to"},
        "y": {"field": "level", "type": "quantitative", "scale": {"domain": [0.9, 1.6], "range": [306, 20], "nice": false, "zero": false}, "axis": null}
      }
    },
    {
      "data": {"name": "cati"},
      "mark": {"type": "line", "color": "#0c5c0c", "strokeWidth": 1.5},
      "encoding": {
        "x": {"field": "age", "type": "quantitative", "scale": {"domain": [0, 11000], "nice": false, "zero": false}, "axis": null},
        "y": {
          "field": "ratio", "type": "quantitative",
          "scale": {"domain": [0.9, 1.6], "range": [306, 20], "nice": false, "zero": false},
          "axis": {
            "orient": "left",
            "offset": 38,
            "values": [0.9, 1.0, 1.1, 1.2, 1.3, 1.4, 1.5, 1.6],
            "labelExpr": "(round(datum.value * 10) % 2 == 1) ? format(datum.value, '.1f') : ''",
            "tickSize": 10,
            "labelPadding": 15,
            "labelAngle": 270,
            "labelAlign": "center",
            "labelBaseline": "bottom",
            "title": "Ca/Ti",
            "titleAngle": 270,
            "titleX": -71,
            "titleY": 171,
            "titleAlign": "center",
            "titleBaseline": "middle"
          }
        }
      }
    },
    {
      "data": {"name": "meanlines"},
      "transform": [{"filter": "datum.series === 'Inc/Ti'"}],
      "mark": {"type": "rule", "color": "#333333", "strokeWidth": 1.5},
      "encoding": {
        "x": {"field": "from", "type": "quantitative", "scale": {"domain": [0, 11000], "nice": false, "zero": false}, "axis": null},
        "x2": {"field": "to"},
        "y": {"field": "level", "type": "quantitative", "scale": {"domain": [1.0, 1.5], "range": [550, 279], "nice": false, "zero": false}, "axis": null}
      }
    },
    {
      "data": {"name": "incti"},
      "mark": {"type": "line", "color": "#5a0808", "strokeWidth": 1.5},
      "encoding": {
        "x": {"field": "age", "type": "quantitative", "scale": {"domain": [0, 11000], "nice": false, "zero": false}, "axis": null},
        "y": {
          "field": "ratio", "type": "quantitative",
          "scale": {"domain": [1.0, 1.5], "range": [550, 279], "nice": false, "zero": false},
          "axis": {
            "orient": "right",
            "offset": 18,
            "values": [1.0, 1.1, 1.2, 1.3, 1.4, 1.5],
            "format": ".1f",
            "tickSize": 9,
            "labelPadding": 10,
            "labelAngle": 270,
            "labelAlign": "center",
            "labelBaseline": "top",
            "title": "Inc/Ti",
            "titleAngle": 270,
            "titleX": 59,
            "titleY": 372,
            "titleAlign": "center",
            "titleBaseline": "middle"
          }
        }
      }
    },
    {
      "data": {"name": "meanlines"},
      "transform": [{"filter": "datum.series === 'Calcite'"}],
      "mark": {"type": "rule", "color": "#333333", "strokeWidth": 1.5},
      "encoding": {
        "x": {"field": "from", "type": "quantitative", "scale": {"domain": [0, 11000], "nice": false, "zero": false}, "axis": null},
        "x2": {"field": "to"},
        "y": {"field": "level", "type": "quantitative", "scale": {"domain": [0, 14], "range": [788, 510], "nice": false, "zero": false}, "axis": null}
      }
    },
    {
      "data": {"name": "calcite"},
      "mark": {"type": "line", "color": "#ff4f0f", "strokeWidth": 4.5, "strokeJoin": "round", "strokeCap": "round"},
      "encoding": {
        "x": {
          "field": "age", "type": "quantitative",
          "scale": {"domain": [0, 11000], "nice": false, "zero": false},
          "axis": {
            "orient": "bottom",
            "values": [0,1000,2000,3000,4000,5000,6000,7000,8000,9000,10000,11000],
            "format": "d",
            "tickSize": 12,
            "labelPadding": 16,
            "title": null
          }
        },
        "y": {
          "field": "pct", "type": "quantitative",
          "scale": {"domain": [0, 14], "range": [788, 510], "nice": false, "zero": false},
          "axis": {
            "orient": "left",
            "offset": 38,
            "values": [0, 2, 4, 6, 8, 10, 12, 14],
            "format": "d",
            "tickSize": 10,
            "labelPadding": 15,
            "labelAngle": 270,
            "labelAlign": "center",
            "labelBaseline": "bottom",
            "title": "Calcite(%)",
            "titleAngle": 270,
            "titleX": -69,
            "titleY": 645,
            "titleAlign": "center",
            "titleBaseline": "middle"
          }
        }
      }
    }
  ],
  "resolve": {
    "scale": {"y": "independent"},
    "axis": {"x": "independent", "y": "independent"}
  }
}
